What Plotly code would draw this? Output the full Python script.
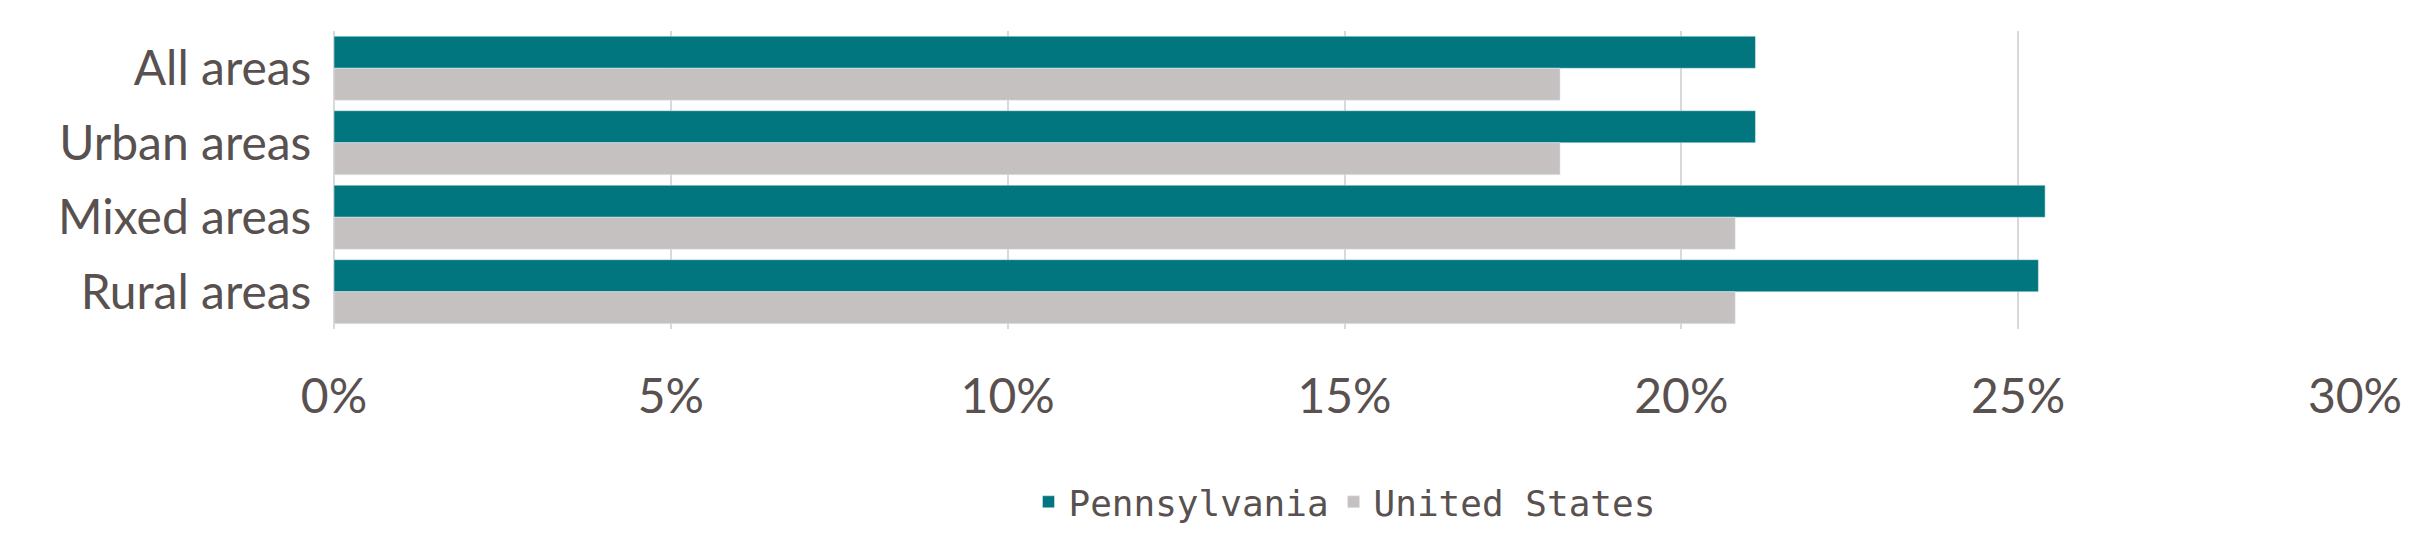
import plotly.graph_objects as go

categories = ["All areas", "Urban areas", "Mixed areas", "Rural areas"]
pennsylvania = [21.1, 21.1, 25.4, 25.3]
united_states = [18.2, 18.2, 20.8, 20.8]
tick_vals = [0, 5, 10, 15, 20, 25, 30]
tick_text = ["0%", "5%", "10%", "15%", "20%", "25%", "30%"]

fig = go.Figure()
fig.add_trace(go.Bar(y=categories, x=pennsylvania, orientation="h", name="Pennsylvania",
                     marker_color="#02767E"))
fig.add_trace(go.Bar(y=categories, x=united_states, orientation="h", name="United States",
                     marker_color="#C4C1C0"))
fig.update_layout(
    width=2420, height=536, barmode="group", bargap=0.14, bargroupgap=0,
    plot_bgcolor="white", paper_bgcolor="white",
    margin=dict(l=326, r=73, t=23, b=183),
    font=dict(family="Lato", color="#595050"),
    legend=dict(orientation="h", x=0.5, xanchor="center", y=-0.58, yanchor="middle",
                font=dict(family="DejaVu Sans Mono", size=36), itemwidth=30),
    showlegend=True,
)
fig.update_xaxes(range=[0, 30], tickvals=tick_vals, ticktext=tick_text, showgrid=True,
                 gridcolor="#D9D9D9", gridwidth=2, zeroline=True, zerolinecolor="#D9D9D9",
                 zerolinewidth=2, tickfont=dict(size=48), ticks="", ticklen=0, showline=False,
                 ticklabelstandoff=35)
fig.update_yaxes(autorange="reversed", tickfont=dict(size=48), ticks="outside",
                 tickcolor="white", ticklen=12, showline=False)
fig.write_html("out.html")
